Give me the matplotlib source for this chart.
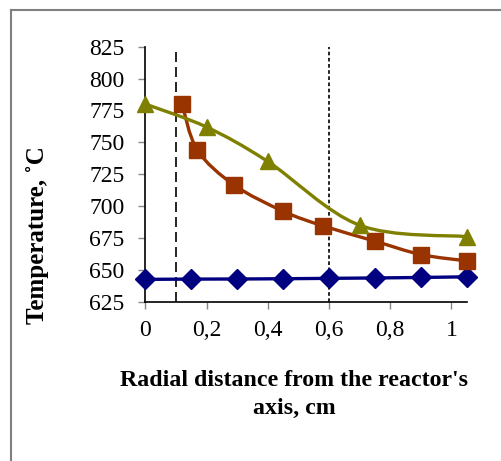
import numpy as np
import matplotlib
matplotlib.use("Agg")
import matplotlib.pyplot as plt
from matplotlib.path import Path
from matplotlib.patches import PathPatch
from matplotlib.lines import Line2D

plt.rcParams['font.family'] = ['Liberation Serif', 'DejaVu Serif']

# data
x_blue = [0, 0.15, 0.3, 0.45, 0.6, 0.75, 0.9, 1.05]
y_blue = [642.5, 642.7, 642.8, 643.0, 643.3, 643.6, 644.0, 644.5]

x_red = [0.12, 0.17, 0.29, 0.45, 0.58, 0.75, 0.9, 1.05]
y_red = [780, 744, 716.5, 696, 684.5, 672.5, 662, 657]

x_green = [0, 0.2, 0.4, 0.7, 1.05]
y_green = [780, 762, 735, 685, 676]

xticks = [0, 0.2, 0.4, 0.6, 0.8, 1.0]
xtick_labels = ["0", "0,2", "0,4", "0,6", "0,8", "1"]
yticks = [625, 650, 675, 700, 725, 750, 775, 800, 825]
x_dashed = 0.1
x_dotted = 0.6


def smooth_path(xs, ys):
    # Excel-like smoothed line: cubic Bezier through each point
    p = np.column_stack([xs, ys]).astype(float)
    n = len(p)
    verts = [p[0]]
    codes = [Path.MOVETO]
    for i in range(n - 1):
        p0 = p[i - 1] if i > 0 else p[i]
        p3 = p[i + 2] if i + 2 < n else p[i + 1]
        c1 = p[i] + (p[i + 1] - p0) / 6.0
        c2 = p[i + 1] - (p3 - p[i]) / 6.0
        verts += [c1, c2, p[i + 1]]
        codes += [Path.CURVE4] * 3
    return Path(verts, codes)


fig = plt.figure(figsize=(5.01, 4.61), dpi=100)
ax = fig.add_axes([0.290, 0.3456, 0.6415, 0.5531])

series = [
    (x_blue, y_blue, "#000080", "D", 10),
    (x_red, y_red, "#993300", "s", 11),
    (x_green, y_green, "#808000", "^", 12),
]
for xs, ys, col, mk, ms in series:
    ax.add_patch(PathPatch(smooth_path(xs, ys), facecolor="none",
                           edgecolor=col, lw=2.4, zorder=3))
    ax.plot(xs, ys, linestyle="none", marker=mk, markersize=ms,
            color=col, markeredgecolor=col, zorder=4, clip_on=False)

ax.axvline(x_dashed, color="black", lw=1.2, dashes=(6, 3), zorder=2)
ax.axvline(x_dotted, color="black", lw=1.2, dashes=(2.2, 1.5), zorder=2)

ax.set_xlim(0, 1.05)
ax.set_ylim(625, 825)
ax.set_xticks(xticks)
ax.set_xticklabels(xtick_labels)
ax.set_yticks(yticks)
ax.spines['top'].set_visible(False)
ax.spines['right'].set_visible(False)
for s in ['left', 'bottom']:
    ax.spines[s].set_linewidth(1.2)
ax.tick_params(axis='both', direction='out', length=5, width=1,
               color="#868686", labelsize=17)
ax.tick_params(axis='x', pad=8)
ax.tick_params(axis='y', pad=10)

fig.text(294 / 501, 1 - 381 / 461, "Radial distance from the reactor's",
         ha="center", va="center", fontsize=17.2, fontweight="bold")
fig.text(294 / 501, 1 - 408 / 461, "axis, cm",
         ha="center", va="center", fontsize=17.2, fontweight="bold")
fig.text(37 / 501, 1 - 235 / 461, "Temperature, \u02daC", rotation=90,
         ha="center", va="center", fontsize=18, fontweight="bold")

# frame of the surrounding box
fig.add_artist(Line2D([10.5 / 501, 10.5 / 501], [1 - 10 / 461, 0],
                      color="#808080", lw=1.5))
fig.add_artist(Line2D([10.5 / 501, 1], [1 - 10 / 461, 1 - 10 / 461],
                      color="#808080", lw=1.5))

fig.savefig("out.png", dpi=100)
